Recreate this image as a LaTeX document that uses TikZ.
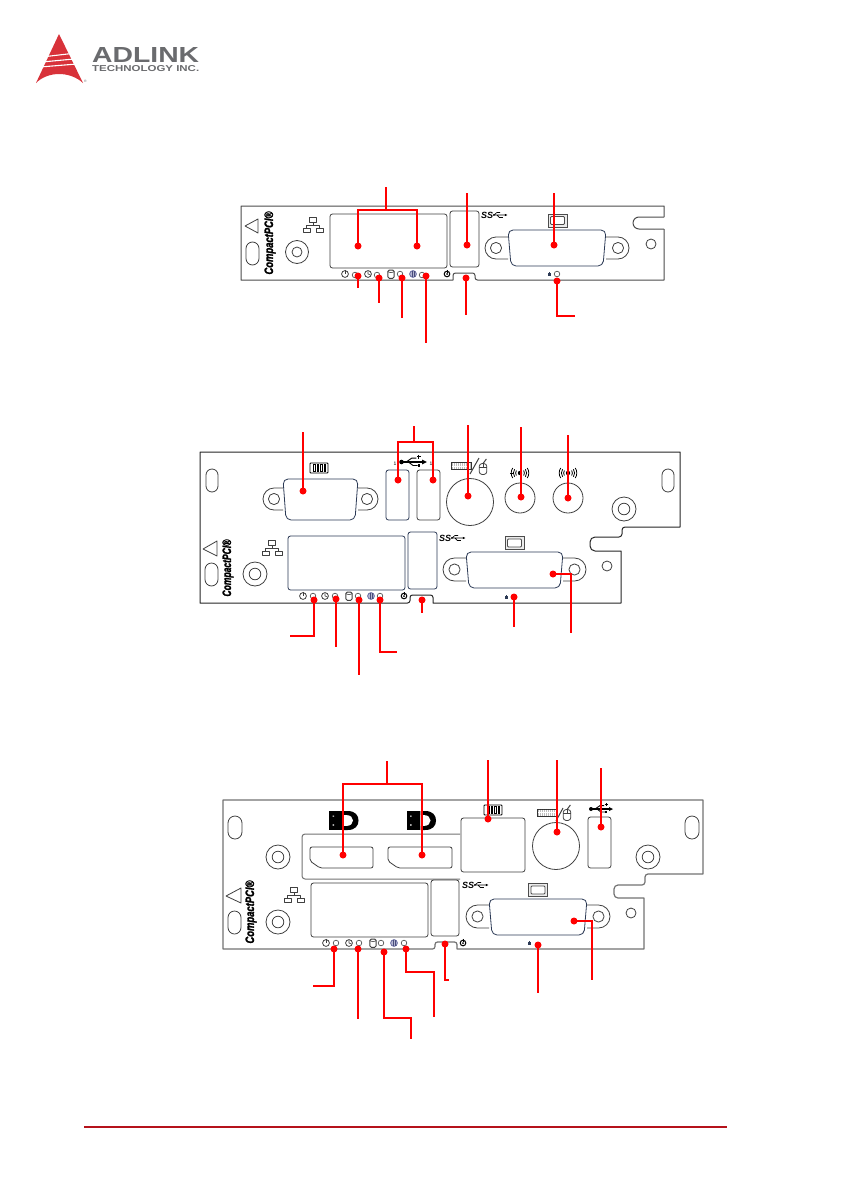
\documentclass[tikz,border=0pt]{standalone}
\usepackage{fontspec}
\setmainfont{Liberation Sans}
\newfontfamily\cpfont{Liberation Sans}[BoldItalicFeatures={FakeBold=2}]
\definecolor{logored}{HTML}{D8323A}
\definecolor{logogray}{HTML}{6A6B6E}
\definecolor{footred}{HTML}{B5121B}
\definecolor{navyline}{HTML}{2C3A55}
\definecolor{ledblue}{HTML}{5A5F9A}
\tikzset{
  panel/.style={draw=black!75,line width=0.8pt,line join=round},
  plate/.style={draw=black!70,line width=1pt,line join=round},
  rline/.style={draw=red,line width=1.6pt,line join=miter},
  rdot/.style={circle,fill=red,inner sep=0pt,minimum size=7pt},
  footline/.style={draw=footred,line width=1.3pt},
  ledc/.pic={\draw[panel,line width=0.6pt] (0,0) circle (2.8pt);},
  poweric/.pic={\draw[panel] (0,0) circle (3.4pt); \draw[panel] (0,-4.2) -- (0,0);},
  clockic/.pic={\draw[panel] (0,0) circle (3.4pt); \draw[panel,line width=0.6pt] (0,-2.6) -- (0,0) -- (2.4,1);},
  diskic/.pic={\draw[panel,line width=1pt,rounded corners=1.6pt] (-3.2,-4) rectangle (3.2,4.4); \draw[panel,line width=0.6pt] (-3.2,-2.2) .. controls (-1.5,-1) and (1.5,-1) .. (3.2,-2.2);},
  blueic/.pic={\draw[draw=ledblue,line width=0.7pt,fill=ledblue!45] (0,0) circle (3.4pt); \draw[ledblue!80!black,line width=0.6pt] (-0.9,-3) -- (-0.9,3) (0.9,-3) -- (0.9,3);},
  cycleic/.pic={\draw[black,line width=1pt] (0,0) circle (2.8pt); \fill[black] (0,0) circle (1pt); \draw[black,line width=0.9pt] (0,-4.2) -- (0,-1);},
  lockic/.pic={\fill[navyline] (-1.5,-0.8) rectangle (1.5,1.8); \draw[navyline,line width=0.5pt] (0,-0.8) -- (0,-2.2);},
  lanic/.pic={
    \draw[panel] (-3.5,-7.5) rectangle (3.5,-2.5);
    \draw[panel] (-10,3) rectangle (-3,7.5);
    \draw[panel] (3,3) rectangle (10,7.5);
    \draw[panel] (0,-2.5) -- (0,0.5) (-6.5,3) -- (-6.5,0.5) -- (6.5,0.5) -- (6.5,3);},
  usbic/.pic={
    \fill[black] (-10,0) circle (2pt);
    \draw[black,line width=1.1pt] (-10,0) -- (9,0);
    \fill[black] (12,0) -- (8,-2) -- (8,2) -- cycle;
    \draw[black,line width=0.9pt] (-6,0) -- (-1,-3.4) -- (3,-3.4) (-4,0) -- (0,3) -- (4,3);
    \draw[black,line width=0.9pt] (3.5,-4.6) -- (6.7,-4.6) (5.1,-6.2) -- (5.1,-3);
    \fill[black] (4,1.8) rectangle (6.4,4.2);},
  ssic/.pic={
    \node[inner sep=0pt,anchor=west,font=\bfseries\itshape\fontsize{9}{9}\selectfont] (ss) at (-13,0) {SS};
    \begin{scope}[shift={(6,0)},scale=0.62]
      \fill[black] (-10,0) circle (1.6pt);
      \draw[black,line width=0.6pt] (-10,0) -- (9,0) (-10,0) -- (-5,-4) -- (0,-4) (-5,0) -- (-1,4) -- (4,4);
      \fill[black] (12,0) -- (8,-1.8) -- (8,1.8) -- cycle;
      \fill[black] (3,2.8) rectangle (5.5,5.2);
    \end{scope}},
  dviic/.pic={
    \draw[black!70,line width=0.9pt,fill=black!8] (-9.5,-6.5) rectangle (9.5,6.5);
    \draw[black!70,line width=0.8pt,fill=white,rounded corners=1pt] (-7,-4) rectangle (7,4);},
  comic/.pic={
    \draw[black,line width=0.9pt,rounded corners=0.8pt] (-9,-5) rectangle (9,5);
    \foreach \xx in {-5.4,-1.8,1.8,5.4}{\draw[black,line width=0.7pt] (\xx,-3.4) rectangle ++(1.4,6.8);}},
  kbic/.pic={
    \draw[black!80,line width=0.7pt,fill=black!25] (-10,-3.6) rectangle (10,3.6);
    \foreach \xx in {-8,-6,...,8}{\draw[white,line width=0.4pt] (\xx,-3) -- (\xx,3);}
    \draw[white,line width=0.4pt] (-9.4,0) -- (9.4,0);},
  mouseic/.pic={
    \draw[panel,rounded corners=3pt] (-3.8,-5.5) rectangle (3.8,5.5);
    \draw[panel,line width=0.6pt] (-3.8,-2) -- (3.8,-2) (0,-5.5) -- (0,-2);
    \draw[panel,line width=1pt] (0,-5.5) -- (3.4,-10);},
  audioic/.pic={
    \fill[black] (0,0) circle (2.2pt);
    \foreach \arad in {4.4,6.6,8.8}{
      \draw[black,line width=0.8pt] (35:\arad pt) arc (35:-35:\arad pt);
      \draw[black,line width=0.8pt] (145:\arad pt) arc (145:215:\arad pt);}
    \draw[black,line width=0.7pt] (0,-4.5) -- (0,4.5);},
  dpic/.pic={
    \fill[black] (-14.5,-9.5) rectangle (-1.2,9.5);
    \fill[white] (-11,-5) rectangle (-9.5,-3.8) (-11,3.8) rectangle (-9.5,5);
    \fill[black] (-0.5,-9.5) -- (4,-9.5) .. controls (12,-9.5) and (15,-5) .. (15,0) .. controls (15,5) and (12,9.5) .. (4,9.5) -- (-0.5,9.5) -- cycle;
    \fill[white] (-0.5,-5.4) -- (3,-5.4) .. controls (7,-5.4) and (9.5,-3) .. (9.5,0) .. controls (9.5,3) and (7,5.4) .. (3,5.4) -- (-0.5,5.4) -- cycle;},
  cpci/.pic={
    \node[rotate=90,inner sep=0pt] (cp) at (0,0) {\resizebox{#1pt}{8.5pt}{\cpfont\bfseries\itshape CompactPCI®}};},
}
\newcommand{\myDsub}[8]{%
  \pgfmathsetmacro{\myR}{(#8-#7)/2}%
  \pgfmathsetmacro{\myM}{(#8+#7)/2}%
  \draw[panel,rounded corners=\myR pt] (#1,#7) -- (#5,#7) -- (#5,#8) -- (#1,#8);
  \draw[panel,rounded corners=\myR pt] (#2,#7) -- (#6,#7) -- (#6,#8) -- (#2,#8);
  \draw[panel] (#5+\myR,\myM) circle (5.6pt);
  \draw[panel] (#6-\myR,\myM) circle (5.6pt);
  \draw[panel,draw=navyline,rounded corners=5pt] (#1,#3) -- (#2,#3) -- (#2-3,#4) -- (#1+3,#4) -- cycle;}
\newcommand{\mySlot}[4]{\pgfmathsetmacro{\myR}{(#2-#1)/2}\draw[panel,rounded corners=\myR pt] (#1,#3) rectangle (#2,#4);}
\newcommand{\myBox}[4]{\draw[panel,rounded corners=2.5pt] (#1,#2) rectangle (#3,#4);}
\newcommand{\myBoss}[2]{\draw[panel] (#1,#2) circle (12pt) (#1,#2) circle (5.8pt);}
\begin{document}
\begin{tikzpicture}[x=1pt,y=-1pt]
\useasboundingbox (0,0) rectangle (841,1191);
\fill[white] (0,0) rectangle (841,1191);

% logo
\fill[logored] (59,34) -- (83,83) .. controls (70,71) and (48,71) .. (36,83) -- cycle;
\draw[white,line width=1.1pt] (46,56.5) -- (72,53.5);
\draw[white,line width=1.1pt] (42,62) -- (74,59);
\draw[white,line width=1.1pt] (40,67) -- (77,64);
\node[inner sep=0pt,anchor=north west] (adl) at (92,47) {\resizebox{107pt}{15pt}{\color{logogray}\bfseries ADLINK}};
\node[inner sep=0pt,anchor=north west] (tech) at (92,65) {\resizebox{107pt}{6pt}{\color{logogray}\bfseries TECHNOLOGY INC.}};
\node[inner sep=0pt] (rg) at (85.5,81) {\fontsize{3.5}{4}\selectfont\color{logogray}®};

% ---------- panel 1 ----------
\draw[plate] (664,217) -- (664,206) -- (241,206) -- (241,280) -- (453,280)
  [rounded corners=2.5pt] -- (453,273) -- (475,273) -- (475,280) [sharp corners] -- (664,280) -- (664,229);
\draw[plate,rounded corners=6pt] (664,217) -- (633,217) -- (633,229) -- (664,229);
\draw[panel] (245,226) -- (258,219) -- (258,233) -- cycle;
\mySlot{246}{259}{242}{265}
\draw[panel] (297,252) circle (11.5pt) (297,252) circle (5pt);
\pic at (270,243) {cpci=63};
\pic at (313,225) {lanic};
\myBox{330}{214}{447}{268}
\myBox{450}{211}{479}{267}
\myDsub{508}{606}{230}{266}{485}{629}{237}{259}
\draw[panel] (651,244) circle (5pt);
\pic at (557.5,220.5) {dviic};
\pic at (494,215) {ssic};
\pic at (345,274) {poweric};
\pic at (355,275) {ledc};
\pic at (368,274) {clockic};
\pic at (377,275) {ledc};
\pic at (391,274) {diskic};
\pic at (400,274) {ledc};
\pic at (413,274) {blueic};
\pic at (422,275) {ledc};
\pic at (447,274) {cycleic};
\pic at (549,274) {lockic};
\pic at (557,274) {ledc};

\node[rdot] (a1) at (358,246) {};
\node[rdot] (a2) at (417,246) {};
\node[rdot] (a3) at (467,245) {};
\node[rdot] (a4) at (554,245) {};
\node[rdot] (a5) at (358,276) {};
\node[rdot] (a6) at (379,278) {};
\node[rdot] (a7) at (402,278) {};
\node[rdot] (a8) at (426,276) {};
\node[rdot] (a9) at (466,278) {};
\node[rdot] (a10) at (557,281) {};
\coordinate (a1s) at (386,187);
\draw[rline] (a1.center) |- (a2 |- 0,210) -- (a2.center);
\draw[rline] (a1s) -- (a1s |- 0,210);
\coordinate (a3e) at (467,193); \draw[rline] (a3.center) -- (a3e);
\coordinate (a4e) at (554,193); \draw[rline] (a4.center) -- (a4e);
\coordinate (a5e) at (358,288); \draw[rline] (a5.center) -- (a5e);
\coordinate (a6e) at (379,303); \draw[rline] (a6.center) -- (a6e);
\coordinate (a7e) at (402,318); \draw[rline] (a7.center) -- (a7e);
\coordinate (a8e) at (426,343); \draw[rline] (a8.center) -- (a8e);
\coordinate (a9e) at (466,315); \draw[rline] (a9.center) -- (a9e);
\coordinate (a10e) at (575,316); \draw[rline] (a10.center) |- (a10e);

% ---------- panel 2 ----------
\draw[plate,draw=black!85] (200,452) -- (680,452) -- (680,527) -- (626,527)
  [rounded corners=3pt] -- (622,527) -- (622,537) [sharp corners] -- (596,537)
  [rounded corners=5pt] -- (590,537) -- (590,551) [sharp corners] -- (621,551) -- (621,603) -- (433,603)
  [rounded corners=2.5pt] -- (433,595) -- (410,595) -- (410,603) [sharp corners] -- (200,603) -- cycle;
\mySlot{206}{218}{469}{492}
\mySlot{205}{218}{563}{586}
\mySlot{662}{674}{469}{492}
\draw[panel] (203,549) -- (217,541) -- (217,556) -- cycle;
\myBoss{255}{574}
\myBoss{624}{509}
\pic at (228,568) {cpci=57};
\pic at (272,548) {lanic};
\draw[panel,draw=navyline,rounded corners=2.5pt] (288,536) rectangle (405,590);
\draw[panel,draw=navyline,rounded corners=2.5pt] (408,532) rectangle (437,589);
\myDsub{283}{358}{479}{520}{263}{378}{488}{510}
\pic at (319,468) {comic};
\draw[panel,draw=navyline,rounded corners=2.5pt] (386,470) rectangle (409,520);
\myBox{417}{470}{440}{520}
\pic[scale=1.15] at (413,462) {usbic};
\node[inner sep=0pt,font=\fontsize{5}{5}\selectfont] (u1) at (395,464) {1};
\node[inner sep=0pt,font=\fontsize{5}{5}\selectfont] (u2) at (431,464) {1};
\draw[panel] (470,502) circle (23.5pt);
\draw[panel] (520,498) circle (15pt);
\draw[panel] (568,498) circle (15pt);
\pic at (461,466) {kbic};
\draw[panel,line width=1pt] (470,474) -- (479,458);
\pic at (483,469) {mouseic};
\pic at (520,473) {audioic};
\draw[black,line width=0.7pt] (510,473) -- (513,473);
\pic at (568,473) {audioic};
\myDsub{466}{563}{552}{588}{443}{586}{558}{581}
\draw[panel] (607,566) circle (5pt);
\pic at (514.5,543) {dviic};
\pic at (452,538) {ssic};
\pic at (303,596) {poweric};
\pic at (313,596) {ledc};
\pic at (325,596) {clockic};
\pic at (335,596) {ledc};
\pic at (349,596) {diskic};
\pic at (358,596) {ledc};
\pic at (371,596) {blueic};
\pic at (380,596) {ledc};
\pic at (404,596) {cycleic};
\pic at (506,597) {lockic};

\node[rdot] (b1) at (303,491) {};
\node[rdot] (b2) at (398,480) {};
\node[rdot] (b3) at (433,480) {};
\node[rdot] (b4) at (468,496) {};
\node[rdot] (b5) at (521,497) {};
\node[rdot] (b6) at (568,498) {};
\node[rdot] (b7) at (314,600) {};
\node[rdot] (b8) at (336,599) {};
\node[rdot] (b9) at (359,600) {};
\node[rdot] (b10) at (380,600) {};
\node[rdot] (b11) at (422,600) {};
\node[rdot] (b12) at (514,597) {};
\node[rdot] (b13) at (553,574) {};
\coordinate (b1e) at (303,432); \draw[rline] (b1.center) -- (b1e);
\coordinate (b2s) at (414,426);
\draw[rline] (b2.center) |- (b3 |- 0,442) -- (b3.center);
\draw[rline] (b2s) -- (b2s |- 0,442);
\coordinate (b4e) at (468,425); \draw[rline] (b4.center) -- (b4e);
\coordinate (b5e) at (521,427); \draw[rline] (b5.center) -- (b5e);
\coordinate (b6e) at (568,435); \draw[rline] (b6.center) -- (b6e);
\coordinate (b7e) at (290,636); \draw[rline] (b7.center) |- (b7e);
\coordinate (b8e) at (336,647); \draw[rline] (b8.center) -- (b8e);
\coordinate (b9e) at (359,675); \draw[rline] (b9.center) -- (b9e);
\coordinate (b10e) at (397,652); \draw[rline] (b10.center) |- (b10e);
\coordinate (b11e) at (422,613); \draw[rline] (b11.center) -- (b11e);
\coordinate (b12e) at (514,627); \draw[rline] (b12.center) -- (b12e);
\coordinate (b13e) at (571,633); \draw[rline] (b13.center) -| (b13e);

% ---------- panel 3 ----------
\draw[plate,draw=black!55,line width=1.2pt] (223,800) -- (703,800) -- (703,874) -- (649,874)
  [rounded corners=3pt] -- (645,874) -- (645,885) [sharp corners] -- (622,885)
  [rounded corners=4pt] -- (614,885) -- (614,898) [sharp corners] -- (644,898) -- (644,949) -- (457,949)
  [rounded corners=2.5pt] -- (457,942) -- (435,942) -- (435,949) [sharp corners] -- (223,949) -- cycle;
\mySlot{228}{242}{816}{839}
\mySlot{228}{241}{911}{934}
\mySlot{685}{699}{816}{839}
\draw[panel] (226,896) -- (241,888) -- (241,903) -- cycle;
\myBoss{278}{857}
\myBoss{278}{922}
\myBoss{648}{857}
\pic at (251,912) {cpci=63};
\pic at (294,895) {lanic};
\pic at (343.5,820.5) {dpic};
\pic at (421,820.5) {dpic};
\draw[panel,draw=black!55,line width=1pt,rounded corners=3pt] (460,834) -- (302,834) -- (302,879) -- (460,879);
\draw[panel,rounded corners=2pt] (310,847) -- (373,847) -- (373,868) -- (320,868) -- (310,861) -- cycle;
\draw[panel,rounded corners=2pt] (388,847) -- (452,847) -- (452,868) -- (398,868) -- (388,861) -- cycle;
\myBox{311}{883}{428}{937}
\myBox{431}{880}{459}{936}
\myBox{461}{818}{525}{872}
\pic at (493,810) {comic};
\draw[panel] (556,846) circle (23.5pt);
\pic at (547.5,812.5) {kbic};
\draw[panel,line width=1pt] (556,821) -- (563,808);
\pic at (567,815) {mouseic};
\myBox{588}{817}{611}{868}
\pic at (601,809) {usbic};
\myDsub{489}{587}{899}{935}{466}{610}{905}{928}
\draw[panel] (631,913) circle (5pt);
\pic at (538,890) {dviic};
\pic at (475,885) {ssic};
\pic at (326,943) {poweric};
\pic at (336,943) {ledc};
\pic at (349,943) {clockic};
\pic at (359,943) {ledc};
\pic at (373,943) {diskic};
\pic at (381,943) {ledc};
\pic at (394,943) {blueic};
\pic at (404,943) {ledc};
\pic at (463,943) {cycleic};
\pic at (529,943) {lockic};

\node[rdot] (c1) at (343,855) {};
\node[rdot] (c2) at (422,855) {};
\node[rdot] (c3) at (488,819) {};
\node[rdot] (c4) at (557,832) {};
\node[rdot] (c5) at (601,827) {};
\node[rdot] (c6) at (574,921) {};
\node[rdot] (c7) at (538,945) {};
\node[rdot] (c8) at (334,949) {};
\node[rdot] (c9) at (358,949) {};
\node[rdot] (c10) at (384,952) {};
\node[rdot] (c11) at (406,949) {};
\node[rdot] (c12) at (445,944) {};
\coordinate (c1s) at (387,761);
\draw[rline] (c1.center) |- (c2 |- 0,784) -- (c2.center);
\draw[rline] (c1s) -- (c1s |- 0,784);
\coordinate (c3e) at (488,760); \draw[rline] (c3.center) -- (c3e);
\coordinate (c4e) at (557,760); \draw[rline] (c4.center) -- (c4e);
\coordinate (c5e) at (601,768); \draw[rline] (c5.center) -- (c5e);
\coordinate (c6e) at (592,980); \draw[rline] (c6.center) -| (c6e);
\coordinate (c7e) at (538,993); \draw[rline] (c7.center) -- (c7e);
\coordinate (c8e) at (313,986); \draw[rline] (c8.center) |- (c8e);
\coordinate (c9e) at (358,1019); \draw[rline] (c9.center) -- (c9e);
\coordinate (c10e) at (411,1039); \draw[rline] (c10.center) |- (411,1018) -- (c10e);
\coordinate (c11e) at (434,1017); \draw[rline] (c11.center) |- (434,972) -- (c11e);
\coordinate (c12e) at (449,980); \draw[rline] (c12.center) |- (c12e);

% footer
\coordinate (f1) at (84,1127);
\coordinate (f2) at (727,1127);
\draw[footline] (f1) -- (f2);
\end{tikzpicture}
\end{document}
